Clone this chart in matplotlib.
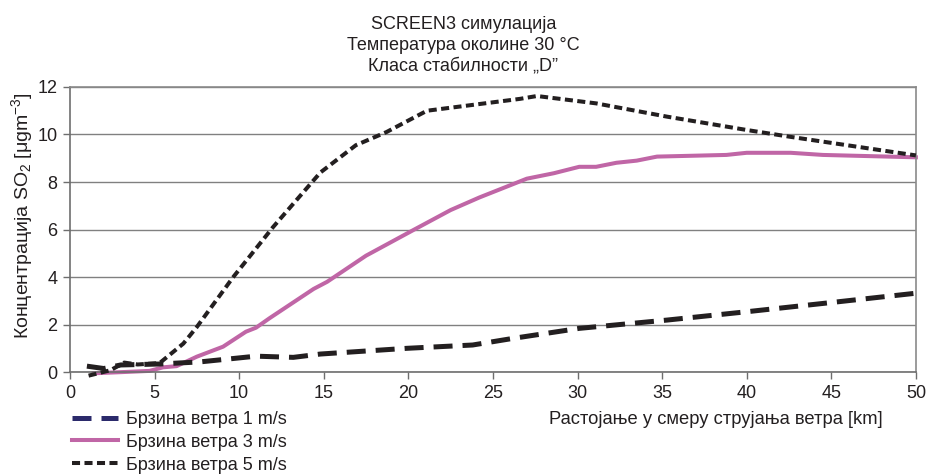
import numpy as np
import matplotlib.pyplot as plt
from matplotlib.lines import Line2D

plt.rcParams['font.family'] = ['Liberation Sans', 'DejaVu Sans']
plt.rcParams['mathtext.fontset'] = 'custom'
plt.rcParams['mathtext.rm'] = 'Liberation Sans'
plt.rcParams['mathtext.it'] = 'Liberation Sans'

# Concentration of SO2 vs downwind distance, for three wind speeds
x_v1 = [1.0, 2.0, 3.0, 5.3, 7.7, 11.0, 13.2, 14.8, 19.9, 23.8, 26.2, 30.1, 35.3, 40.0, 44.9, 50.0]
y_v1 = [0.25, 0.15, 0.3, 0.34, 0.43, 0.67, 0.62, 0.76, 1.0, 1.14, 1.42, 1.84, 2.19, 2.54, 2.92, 3.32]

x_v3 = [1.4, 3.1, 4.7, 5.5, 6.3, 7.5, 9.05, 10.4, 11.0, 11.8, 14.4, 15.2, 17.5, 20.3, 22.5,
        24.2, 27.0, 28.6, 30.1, 31.1, 32.3, 33.5, 34.7, 38.8, 40.0, 42.6, 44.5, 50.0]
y_v3 = [-0.05, 0.0, 0.05, 0.2, 0.25, 0.65, 1.07, 1.7, 1.87, 2.27, 3.5, 3.8, 4.9, 5.98, 6.82,
        7.35, 8.14, 8.37, 8.64, 8.64, 8.81, 8.9, 9.07, 9.14, 9.23, 9.23, 9.14, 9.04]

x_v5 = [1.1, 2.4, 3.2, 4.0, 5.3, 6.7, 7.5, 9.65, 12.0, 14.8, 16.9, 18.7, 21.1, 26.6, 27.6,
        31.1, 35.3, 40.0, 42.6, 50.0]
y_v5 = [-0.15, 0.08, 0.4, 0.32, 0.38, 1.2, 1.9, 4.0, 6.1, 8.4, 9.55, 10.1, 11.0, 11.5, 11.62,
        11.31, 10.75, 10.19, 9.9, 9.12]

labels = ['Брзина ветра 1 m/s', 'Брзина ветра 3 m/s', 'Брзина ветра 5 m/s']
pink = '#c066a6'
ink = '#231f20'
dash1 = (3.8, 2.0)
dash5 = (2.0, 1.1)

fig = plt.figure(figsize=(9.27, 4.74), dpi=100)
ax = fig.add_axes([0.0755, 0.215, 0.9125, 0.6015])

ax.plot(x_v1, y_v1, color=ink, lw=3.6, dashes=dash1, zorder=3, clip_on=False)
ax.plot(x_v3, y_v3, color=pink, lw=2.9, zorder=2, clip_on=False)
ax.plot(x_v5, y_v5, color=ink, lw=2.9, dashes=dash5, zorder=4, clip_on=False)

ax.set_xlim(0, 50)
ax.set_ylim(0, 12)
ax.set_xticks(np.arange(0, 51, 5))
ax.set_yticks(np.arange(0, 13, 2))
ax.yaxis.grid(True, color='#808080', lw=1.0)
ax.set_axisbelow(True)
for s in ax.spines.values():
    s.set_color('#8a8a8a')
    s.set_linewidth(1.2)
ax.spines['left'].set_color('#6e6e6e')
ax.spines['bottom'].set_color('#6e6e6e')
ax.tick_params(axis='both', labelsize=13, length=5, width=1.0, color='#6e6e6e',
               labelcolor=ink, pad=4)

ax.set_ylabel('Концентрација SO$_2$ [μgm$^{-3}$]', fontsize=14, color=ink)
ax.yaxis.set_label_coords(-0.041, 0.55)
ax.text(0.961, -0.165, 'Растојање у смеру струјања ветра [km]', transform=ax.transAxes,
        ha='right', va='center', fontsize=13.2, color=ink)

fig.suptitle('SCREEN3 симулација\nТемпература околине 30 °C\nКласа стабилности „D”',
             y=0.967, va='top', fontsize=13, linespacing=1.3, color=ink)

handles = [
    Line2D([], [], color='#2b2a6b', lw=3.6, dashes=dash1),
    Line2D([], [], color=pink, lw=2.9),
    Line2D([], [], color=ink, lw=2.9, dashes=dash5),
]
fig.legend(handles, labels, loc='upper left', bbox_to_anchor=(0.0773, 0.133), frameon=False,
           fontsize=13, handlelength=2.55, handletextpad=0.45, labelspacing=0.32,
           borderpad=0.0, borderaxespad=0.0, labelcolor=ink)

fig.savefig('out.png', dpi=100)
